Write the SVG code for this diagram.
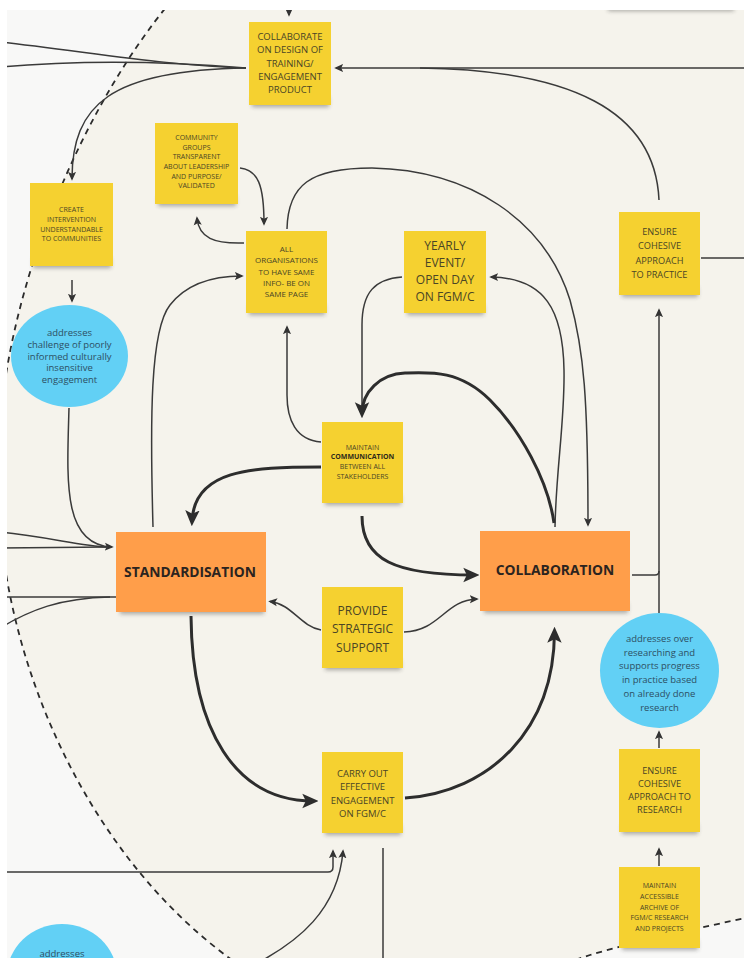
<svg xmlns="http://www.w3.org/2000/svg" width="744" height="958" viewBox="0 0 744 958">
  <defs>
    <style>
      .bg-out { fill: #f8f8f7; }
      .bg-in { fill: #f5f3ec; }
      .edge { fill: none; stroke: #2b2b2b; stroke-width: 1.8; stroke-dasharray: 6 5; }
      .ln { fill: none; stroke: #3a3a3a; stroke-width: 1.5; }
      .lnb { fill: none; stroke: #2d2d2d; stroke-width: 3; }
      .sticky { fill: #f5d130; }
      .core { fill: #ff9e4a; }
      .bubble { fill: #62d0f5; }
      .shadow { fill: #2a2a2a; opacity: 0.38; filter: url(#blur); }
      .t { font-family: "Open Sans", "Noto Sans", sans-serif; fill: #4a4526; text-anchor: middle; }
      .tb { font-family: "Open Sans", "Noto Sans", sans-serif; fill: #2b241f; text-anchor: middle; font-weight: bold; }
      .tc { font-family: "Open Sans", "Noto Sans", sans-serif; fill: #2d4f63; text-anchor: middle; }
      .f7 { font-size: 7px; }
      .f8 { font-size: 8px; }
      .f9 { font-size: 9.2px; }
      .f95 { font-size: 9.5px; }
      .f12 { font-size: 12px; }
      .f13 { font-size: 13.8px; }
    </style>
    <filter id="blur" x="-20%" y="-100%" width="140%" height="300%">
      <feGaussianBlur stdDeviation="2.2"/>
    </filter>
    <marker id="arr" viewBox="0 0 10 10" refX="8" refY="5" markerWidth="9" markerHeight="9" markerUnits="userSpaceOnUse" orient="auto">
      <path d="M0,0.5 L10,5 L0,9.5 L2.2,5 z" fill="#333"/>
    </marker>
    <marker id="arrBig" viewBox="0 0 10 10" refX="7" refY="5" markerWidth="16" markerHeight="16" markerUnits="userSpaceOnUse" orient="auto">
      <path d="M0,0.5 L10,5 L0,9.5 L2.2,5 z" fill="#2d2d2d"/>
    </marker>
  </defs>

  <!-- board surface and the dashed zone -->
  <rect class="bg-out" x="0" y="0" width="744" height="958"/>
  <path class="bg-in" d="M172,0 C80,110 5,290 -2,450 C-10,640 80,850 232,960 C330,1040 500,985 590,955 C640,940 700,928 750,917 L750,0 Z"/>
  <path class="edge" d="M172,0 C80,110 5,290 -2,450 C-10,640 80,850 232,960 C330,1040 500,985 590,955 C640,940 700,928 750,917"/>

  <!-- shadow of a note just above the top edge -->
  <rect class="shadow" x="608" y="3" width="126" height="8"/>

  <g id="connectors">
    <path class="ln" d="M289,0 L289,15" marker-end="url(#arr)"/>
    <path class="ln" d="M0,42 C90,52 170,66 246,68"/>
    <path class="ln" d="M0,67 C70,61 150,60 246,68"/>
    <path class="ln" d="M246,68 C110,70 72,105 72,179" marker-end="url(#arr)"/>
    <path class="ln" d="M744,68 L336,68" marker-end="url(#arr)"/>
    <path class="ln" d="M659,200 C655,110 570,70 420,68"/>
    <path class="ln" d="M701,258 L744,258"/>
    <path class="ln" d="M240,168 C258,170 264,185 264,224" marker-end="url(#arr)"/>
    <path class="ln" d="M244,243 C214,244 199,238 197,218" marker-end="url(#arr)"/>
    <path class="ln" d="M287,229 C288,185 310,168 372,168 C470,170 545,220 570,300 C584,350 588,400 588,525" marker-end="url(#arr)"/>
    <path class="ln" d="M555,527 C556,470 565,420 564,370 C563,310 545,278 491,277" marker-end="url(#arr)"/>
    <path class="ln" d="M402,277 C375,279 362,292 362,325 L362,415" marker-end="url(#arr)"/>
    <path class="lnb" d="M554,523 C548,480 520,430 490,400 C460,370 430,372 405,373 C380,374 362,392 362,413.5" marker-end="url(#arrBig)"/>
    <path class="ln" d="M321,442 C296,440 287,420 287,395 L287,327" marker-end="url(#arr)"/>
    <path class="lnb" d="M321,467 C250,467 194,470 192,521.5" marker-end="url(#arrBig)"/>
    <path class="lnb" d="M362,516 C362,560 395,575 474.5,575" marker-end="url(#arrBig)"/>
    <path class="ln" d="M153,527 C150,420 150,330 170,305 C188,282 215,276 242,276" marker-end="url(#arr)"/>
    <path class="ln" d="M69,408 C67,480 62,545 112,547" marker-end="url(#arr)"/>
    <path class="ln" d="M0,532 C50,537 80,546 108,547"/>
    <path class="ln" d="M0,548 L108,547"/>
    <path class="ln" d="M0,597 L116,597"/>
    <path class="ln" d="M0,628 C30,610 60,598 110,597"/>
    <path class="ln" d="M72,280 L72,301" marker-end="url(#arr)"/>
    <path class="ln" d="M321,630 C300,626 292,604 270,601.5" marker-end="url(#arr)"/>
    <path class="ln" d="M404,632 C440,631 445,600 477,599" marker-end="url(#arr)"/>
    <path class="lnb" d="M191,616 C192,730 235,801 313.5,801" marker-end="url(#arrBig)"/>
    <path class="lnb" d="M405,798 C490,792 554,730 554.5,631.5" marker-end="url(#arrBig)"/>
    <path class="ln" d="M0,872 L328,872 Q333,872 333,867 L333,851" marker-end="url(#arr)"/>
    <path class="ln" d="M263,960 C295,942 338,912 343,851" marker-end="url(#arr)"/>
    <path class="ln" d="M383,848 L383,958"/>
    <path class="ln" d="M659,613 L659,310" marker-end="url(#arr)"/>
    <path class="ln" d="M632,575 L655,575 Q659,575 659,571"/>
    <path class="ln" d="M659,748 L659,732" marker-end="url(#arr)"/>
    <path class="ln" d="M659,866 L659,849" marker-end="url(#arr)"/>
  </g>

  <g id="n-collaborate-design">
    <rect class="shadow" x="252" y="97" width="77" height="10"/>
    <rect class="sticky" x="249" y="22" width="82" height="83"/>
    <text class="t f95"><tspan x="290" y="39.5">COLLABORATE</tspan><tspan x="290" y="53">ON DESIGN OF</tspan><tspan x="290" y="66.5">TRAINING/</tspan><tspan x="290" y="80">ENGAGEMENT</tspan><tspan x="290" y="93">PRODUCT</tspan></text>
  </g>

  <g id="n-community-groups">
    <rect class="shadow" x="158" y="196" width="78" height="10"/>
    <rect class="sticky" x="155" y="123" width="83" height="81"/>
    <text class="t f7"><tspan x="196.5" y="140">COMMUNITY</tspan><tspan x="196.5" y="149.7">GROUPS</tspan><tspan x="196.5" y="159.3">TRANSPARENT</tspan><tspan x="196.5" y="169">ABOUT LEADERSHIP</tspan><tspan x="196.5" y="178.7">AND PURPOSE/</tspan><tspan x="196.5" y="188.3">VALIDATED</tspan></text>
  </g>

  <g id="n-create-intervention">
    <rect class="shadow" x="33" y="258" width="78" height="10"/>
    <rect class="sticky" x="30" y="183" width="83" height="83"/>
    <text class="t f7"><tspan x="71.5" y="212">CREATE</tspan><tspan x="71.5" y="221.8">INTERVENTION</tspan><tspan x="71.5" y="231.6">UNDERSTANDABLE</tspan><tspan x="71.5" y="241.4">TO COMMUNITIES</tspan></text>
  </g>

  <g id="n-all-organisations">
    <rect class="shadow" x="249" y="305" width="76" height="10"/>
    <rect class="sticky" x="246" y="231" width="81" height="82"/>
    <text class="t f8"><tspan x="286.5" y="252">ALL</tspan><tspan x="286.5" y="263.3">ORGANISATIONS</tspan><tspan x="286.5" y="274.5">TO HAVE SAME</tspan><tspan x="286.5" y="285.8">INFO- BE ON</tspan><tspan x="286.5" y="297">SAME PAGE</tspan></text>
  </g>

  <g id="n-yearly-event">
    <rect class="shadow" x="407" y="305" width="77" height="10"/>
    <rect class="sticky" x="404" y="231" width="82" height="82"/>
    <text class="t f12"><tspan x="445" y="250">YEARLY</tspan><tspan x="445" y="267">EVENT/</tspan><tspan x="445" y="284">OPEN DAY</tspan><tspan x="445" y="301">ON FGM/C</tspan></text>
  </g>

  <g id="n-cohesive-practice">
    <rect class="shadow" x="622" y="287" width="76" height="10"/>
    <rect class="sticky" x="619" y="212" width="81" height="83"/>
    <text class="t f9"><tspan x="659.5" y="234.5">ENSURE</tspan><tspan x="659.5" y="249">COHESIVE</tspan><tspan x="659.5" y="263.5">APPROACH</tspan><tspan x="659.5" y="278">TO PRACTICE</tspan></text>
  </g>

  <g id="n-poorly-informed">
    <ellipse class="bubble" cx="69.5" cy="356" rx="58.5" ry="51"/>
    <text class="tc f95"><tspan x="69.5" y="336">addresses</tspan><tspan x="69.5" y="347.8">challenge of poorly</tspan><tspan x="69.5" y="359.6">informed culturally</tspan><tspan x="69.5" y="371.4">insensitive</tspan><tspan x="69.5" y="383.2">engagement</tspan></text>
  </g>

  <g id="n-maintain-communication">
    <rect class="shadow" x="325" y="495" width="76" height="10"/>
    <rect class="sticky" x="322" y="422" width="81" height="81"/>
    <text class="t f7"><tspan x="362.5" y="449.5">MAINTAIN</tspan><tspan x="362.5" y="459.3" font-weight="bold" fill="#2f2b1a">COMMUNICATION</tspan><tspan x="362.5" y="469">BETWEEN ALL</tspan><tspan x="362.5" y="478.8">STAKEHOLDERS</tspan></text>
  </g>

  <g id="n-standardisation">
    <rect class="shadow" x="120" y="604" width="144" height="10"/>
    <rect class="core" x="116" y="532" width="150" height="80"/>
    <text class="tb f13" x="190" y="577">STANDARDISATION</text>
  </g>

  <g id="n-collaboration">
    <rect class="shadow" x="484" y="603" width="144" height="10"/>
    <rect class="core" x="480" y="531" width="150" height="80"/>
    <text class="tb f13" x="555" y="575">COLLABORATION</text>
  </g>

  <g id="n-strategic-support">
    <rect class="shadow" x="325" y="660" width="76" height="10"/>
    <rect class="sticky" x="322" y="587" width="81" height="81"/>
    <text class="t f12"><tspan x="362.5" y="614.5">PROVIDE</tspan><tspan x="362.5" y="633">STRATEGIC</tspan><tspan x="362.5" y="651.5">SUPPORT</tspan></text>
  </g>

  <g id="n-effective-engagement">
    <rect class="shadow" x="325" y="825" width="76" height="10"/>
    <rect class="sticky" x="322" y="752" width="81" height="81"/>
    <text class="t f95"><tspan x="362.5" y="777">CARRY OUT</tspan><tspan x="362.5" y="790.3">EFFECTIVE</tspan><tspan x="362.5" y="803.6">ENGAGEMENT</tspan><tspan x="362.5" y="817">ON FGM/C</tspan></text>
  </g>

  <g id="n-over-researching">
    <ellipse class="bubble" cx="659.5" cy="670.5" rx="59.5" ry="57.5"/>
    <text class="tc f95"><tspan x="659.5" y="642">addresses over</tspan><tspan x="659.5" y="655.7">researching and</tspan><tspan x="659.5" y="669.4">supports progress</tspan><tspan x="659.5" y="683">in practice based</tspan><tspan x="659.5" y="696.8">on already done</tspan><tspan x="659.5" y="710.5">research</tspan></text>
  </g>

  <g id="n-cohesive-research">
    <rect class="shadow" x="622" y="824" width="76" height="10"/>
    <rect class="sticky" x="619" y="749" width="81" height="83"/>
    <text class="t f9"><tspan x="659.5" y="774">ENSURE</tspan><tspan x="659.5" y="787">COHESIVE</tspan><tspan x="659.5" y="800">APPROACH TO</tspan><tspan x="659.5" y="813">RESEARCH</tspan></text>
  </g>

  <g id="n-research-archive">
    <rect class="shadow" x="622" y="940" width="76" height="10"/>
    <rect class="sticky" x="619" y="867" width="81" height="81"/>
    <text class="t f7"><tspan x="659.5" y="888">MAINTAIN</tspan><tspan x="659.5" y="898.8">ACCESSIBLE</tspan><tspan x="659.5" y="909.6">ARCHIVE OF</tspan><tspan x="659.5" y="920.4">FGM/C RESEARCH</tspan><tspan x="659.5" y="931.2">AND PROJECTS</tspan></text>
  </g>

  <g id="n-addresses-lower">
    <ellipse class="bubble" cx="62" cy="976" rx="55" ry="52"/>
    <text class="tc f95" x="62" y="956.5">addresses</text>
  </g>

  <!-- page margin around the board -->
  <rect x="0" y="0" width="744" height="10" fill="#ffffff"/>
  <rect x="0" y="0" width="7" height="958" fill="#ffffff"/>
</svg>
